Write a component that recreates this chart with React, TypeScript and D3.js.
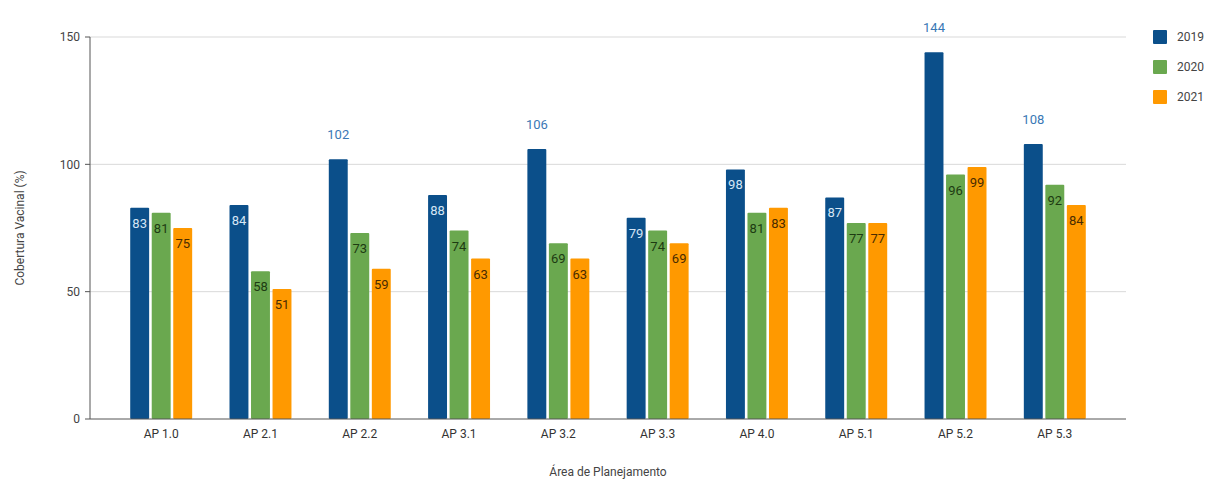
import React from "react";
import * as d3 from "d3";

const categories = ["AP 1.0", "AP 2.1", "AP 2.2", "AP 3.1", "AP 3.2", "AP 3.3", "AP 4.0", "AP 5.1", "AP 5.2", "AP 5.3"];
const years = ["2019", "2020", "2021"];
const values2019 = [83, 84, 102, 88, 106, 79, 98, 87, 144, 108];
const values2020 = [81, 58, 73, 74, 69, 74, 81, 77, 96, 92];
const values2021 = [75, 51, 59, 63, 63, 69, 83, 77, 99, 84];
const yTicks = [0, 50, 100, 150];

const seriesValues = [values2019, values2020, values2021];
const colors = ["#0b4f8a", "#6aa84f", "#ff9900"];
const insideLabelColors = ["#d6e6f5", "#1d3b12", "#4a2c00"];
const outsideLabelColor = "#3a78b5";

const W = 1214;
const H = 481;
const margin = { left: 90, right: 88, top: 37, bottom: 62 };
const FONT = "Roboto, 'Liberation Sans', Arial, sans-serif";

export default function App() {
  const x0 = margin.left;
  const x1 = W - margin.right;
  const yBottom = H - margin.bottom;

  const x = d3.scaleBand<string>().domain(categories).range([x0, x1]).paddingInner(0.376).paddingOuter(0.405);
  const xs = d3.scaleBand<string>().domain(years).range([0, x.bandwidth()]).paddingInner(0.12);
  const y = d3.scaleLinear().domain([0, 150]).range([yBottom, margin.top]);

  return (
    <svg width={W} height={H} style={{ position: "absolute", left: 0, top: 0, background: "#fff" }} fontFamily={FONT}>
      {/* grid lines and y ticks */}
      {yTicks.map((t) => (
        <g key={t}>
          {t > 0 && <line x1={x0} x2={x1} y1={y(t)} y2={y(t)} stroke="#d9d9d9" strokeWidth={1} />}
          <line x1={x0 - 5} x2={x0} y1={y(t)} y2={y(t)} stroke="#555" strokeWidth={1} />
          <text x={x0 - 10} y={y(t)} dy="0.35em" textAnchor="end" fontSize={12} fill="#444">
            {t}
          </text>
        </g>
      ))}

      {/* bars */}
      {categories.map((c, i) => (
        <g key={c} transform={`translate(${x(c)},0)`}>
          {years.map((yr, s) => {
            const v = seriesValues[s][i];
            const bx = xs(yr)!;
            const bw = xs.bandwidth();
            const top = y(v);
            const above = v > 100;
            return (
              <g key={yr}>
                <rect x={bx} y={top} width={bw} height={yBottom - top} fill={colors[s]} rx={1} />
                <text
                  x={bx + bw / 2}
                  y={above ? top - 20 : top + 20}
                  textAnchor="middle"
                  fontSize={13}
                  fill={above ? outsideLabelColor : insideLabelColors[s]}
                >
                  {v}
                </text>
              </g>
            );
          })}
          <text x={x.bandwidth() / 2} y={yBottom + 19} textAnchor="middle" fontSize={12} fill="#333">
            {c}
          </text>
        </g>
      ))}

      {/* axes */}
      <line x1={x0} x2={x0} y1={margin.top} y2={yBottom} stroke="#555" strokeWidth={1} />
      <line x1={x0} x2={x1} y1={yBottom} y2={yBottom} stroke="#555" strokeWidth={1} />

      {/* axis titles */}
      <text x={(x0 + x1) / 2} y={H - 5} textAnchor="middle" fontSize={12} fill="#444">
        Área de Planejamento
      </text>
      <text transform={`translate(24,${(margin.top + yBottom) / 2}) rotate(-90)`} textAnchor="middle" fontSize={12} fill="#444">
        Cobertura Vacinal (%)
      </text>

      {/* legend */}
      {years.map((yr, s) => (
        <g key={yr} transform={`translate(1153,${30 + s * 30})`}>
          <rect width={14} height={14} fill={colors[s]} rx={1} />
          <text x={24} y={7} dy="0.35em" fontSize={12} fill="#444">
            {yr}
          </text>
        </g>
      ))}
    </svg>
  );
}
